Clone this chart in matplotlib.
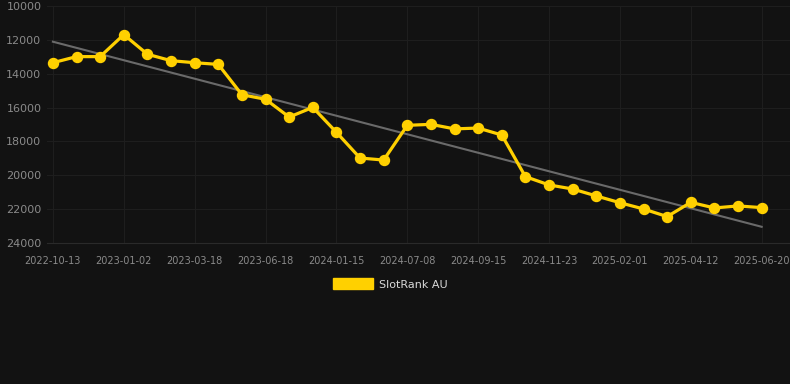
import numpy as np
import matplotlib
matplotlib.use("Agg")
import matplotlib.pyplot as plt
from matplotlib.patches import Patch

# rank values, one per snapshot (lower rank number = better, axis is inverted)
ranks = [13350, 12990, 12990, 11690, 12850, 13230, 13350, 13450, 15240, 15510,
         16560, 15990, 17460, 18980, 19100, 17050, 16990, 17260, 17210, 17620,
         20080, 20570, 20810, 21220, 21620, 21990, 22440, 21600, 21930, 21810,
         21910]
tick_labels = ['2022-10-13', '2023-01-02', '2023-03-18', '2023-06-18', '2024-01-15',
               '2024-07-08', '2024-09-15', '2024-11-23', '2025-02-01', '2025-04-12',
               '2025-06-20']
tick_every = 3
y_ticks = [10000, 12000, 14000, 16000, 18000, 20000, 22000, 24000]
series_name = 'SlotRank AU'

bg = '#121212'
yellow = '#ffd000'
txt = '#8a8a8a'

x = np.arange(len(ranks))
slope, icpt = np.polyfit(x, ranks, 1)

fig = plt.figure(figsize=(7.9, 3.84), dpi=100, facecolor=bg)
ax = fig.add_axes([47 / 790, 1 - 243 / 384, (790 - 47) / 790, (243 - 6) / 384])
ax.set_facecolor(bg)

ax.plot(x, slope * x + icpt, color='#6a6a6a', lw=1.5, zorder=2)
ax.plot(x, ranks, color=yellow, lw=2.3, marker='o', ms=7.2, zorder=3)

ax.set_xlim(-0.25, 31.2)
ax.set_ylim(24000, 10000)
ax.set_yticks(y_ticks)
ax.set_yticklabels([str(v) for v in y_ticks])
ax.set_xticks(x[::tick_every])
ax.set_xticklabels(tick_labels)

ax.grid(True, color='#1e1e1e', lw=0.8)
ax.set_axisbelow(True)
for s in ax.spines.values():
    s.set_visible(False)
ax.spines['bottom'].set_visible(True)
ax.spines['bottom'].set_color('#2a2a2a')
ax.tick_params(axis='y', colors=txt, labelsize=8, length=0, pad=4)
ax.tick_params(axis='x', colors=txt, labelsize=7, length=0, pad=9)

fig.legend(handles=[Patch(color=yellow, label=series_name)], loc='center',
           bbox_to_anchor=(390 / 790, 1 - 284 / 384), frameon=False,
           handlelength=3.6, handleheight=1.1, handletextpad=0.55,
           fontsize=8, labelcolor='#d8d8d8')

fig.savefig('out.png', dpi=100, facecolor=bg)
